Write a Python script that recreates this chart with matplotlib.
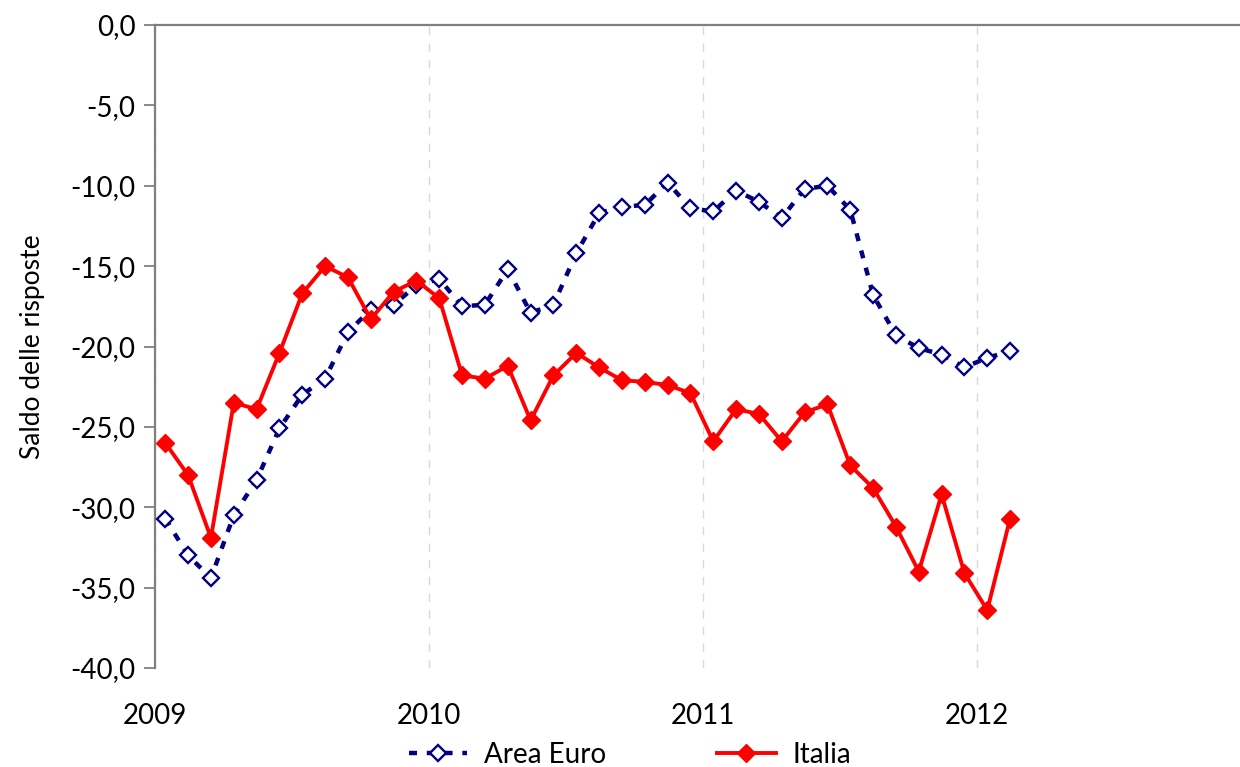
"""Saldo delle risposte: Area Euro vs Italia."""
import matplotlib
matplotlib.use('Agg')
import matplotlib.pyplot as plt
import matplotlib.ticker as mticker
import numpy as np

plt.rcParams['font.family'] = ['Lato', 'DejaVu Sans']

# monthly observations, Jan 2009 - Feb 2012
start_year = 2009
area_euro = [
    -30.7, -33.0, -34.4, -30.5, -28.3, -25.1, -23.0, -22.0, -19.1, -17.7, -17.4, -16.2,
    -15.8, -17.5, -17.4, -15.2, -17.9, -17.4, -14.2, -11.7, -11.3, -11.2, -9.8, -11.4,
    -11.6, -10.3, -11.0, -12.0, -10.2, -10.0, -11.5, -16.8, -19.3, -20.1, -20.5, -21.3,
    -20.7, -20.3,
]
italia = [
    -26.0, -28.0, -31.9, -23.5, -23.9, -20.4, -16.7, -15.0, -15.7, -18.3, -16.6, -15.9,
    -17.0, -21.8, -22.0, -21.2, -24.6, -21.8, -20.4, -21.3, -22.1, -22.2, -22.4, -22.9,
    -25.9, -23.9, -24.2, -25.9, -24.1, -23.6, -27.4, -28.8, -31.2, -34.0, -29.2, -34.1,
    -36.4, -30.7,
]
year_ticks = [2009, 2010, 2011, 2012]
y_ticks = [0, -5, -10, -15, -20, -25, -30, -35, -40]


def _plot():
    months = np.arange(len(italia))
    x = start_year + (months + 0.45) / 12.0

    fig = plt.figure(figsize=(12.4, 7.67), dpi=100)
    ax = fig.add_axes([155 / 1240, 1 - 668 / 767, 1096 / 1240, (668 - 25) / 767])

    ax.plot(x, area_euro, color='#000080', lw=3.2, ls=(0, (1.8, 2.2)),
            marker='D', ms=8, mfc='white', mec='#000080', mew=1.7,
            label='Area Euro', zorder=3)
    ax.plot(x, italia, color='#ff0000', lw=2.8, ls='-',
            marker='D', ms=9, mfc='#ff0000', mec='#ff0000',
            label='Italia', zorder=4)

    ax.set_xlim(2009, 2013)
    ax.set_ylim(-40, 0)
    ax.set_yticks(y_ticks)
    ax.yaxis.set_major_formatter(mticker.FuncFormatter(
        lambda v, p: ('%.1f' % v).replace('.', ',')))
    ax.set_xticks(year_ticks)
    ax.set_xticklabels([str(y) for y in year_ticks])

    for s in ['right', 'bottom']:
        ax.spines[s].set_visible(False)
    for s in ['left', 'top']:
        ax.spines[s].set_color('#808080')
        ax.spines[s].set_linewidth(1.6)

    ax.tick_params(axis='y', direction='out', length=8, width=1.3,
                   color='#808080', labelsize=20, pad=6)
    ax.tick_params(axis='x', length=0, labelsize=20, pad=25)
    ax.xaxis.grid(True, color='#d9d9d9', ls=(0, (6, 6)), lw=1)
    ax.set_axisbelow(True)

    ax.set_ylabel('Saldo delle risposte', fontsize=19, labelpad=18)

    fig.legend(loc='lower center', bbox_to_anchor=(0.508, -0.034), ncol=2,
               frameon=False, fontsize=20, handlelength=2.1,
               handletextpad=0.6, columnspacing=4.0)

    fig.savefig('out.png', dpi=100)


if __name__ == '__main__':
    _plot()
